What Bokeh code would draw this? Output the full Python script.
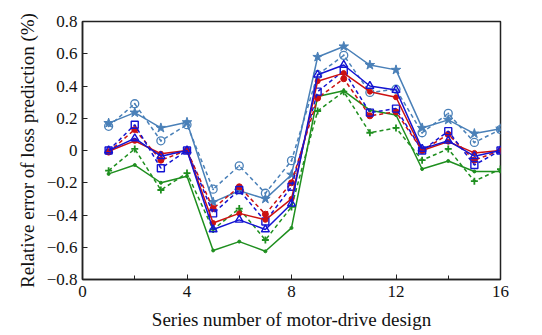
from bokeh.plotting import figure
from bokeh.models import FixedTicker, Range1d
from bokeh.embed import file_html
from bokeh.resources import INLINE

x = list(range(1, 17))
star_solid = [0.17, 0.235, 0.14, 0.175, -0.32, -0.25, -0.30, -0.15, 0.58, 0.645, 0.53, 0.50, 0.14, 0.19, 0.105, 0.135]
circle_dashed = [0.15, 0.29, 0.06, 0.16, -0.24, -0.095, -0.265, -0.063, 0.47, 0.59, 0.36, 0.38, 0.11, 0.23, 0.05, 0.13]
triangle_solid = [0.0, 0.075, -0.035, 0.0, -0.49, -0.43, -0.49, -0.33, 0.47, 0.53, 0.40, 0.375, 0.01, 0.06, -0.035, 0.0]
square_dashed = [0.0, 0.16, -0.11, 0.0, -0.39, -0.245, -0.44, -0.225, 0.365, 0.495, 0.235, 0.26, 0.0, 0.12, -0.09, 0.0]
red_solid = [-0.005, 0.06, -0.02, 0.0, -0.45, -0.39, -0.43, -0.30, 0.43, 0.48, 0.365, 0.33, 0.0, 0.055, -0.015, 0.0]
red_dashed = [-0.01, 0.13, -0.06, 0.0, -0.36, -0.225, -0.395, -0.20, 0.325, 0.445, 0.215, 0.24, 0.0, 0.10, -0.06, 0.0]
green_solid = [-0.145, -0.09, -0.2, -0.16, -0.62, -0.565, -0.625, -0.48, 0.335, 0.37, 0.25, 0.22, -0.115, -0.065, -0.13, -0.13]
green_plus = [-0.125, 0.01, -0.245, -0.14, -0.49, -0.36, -0.555, -0.35, 0.245, 0.365, 0.11, 0.14, -0.06, 0.01, -0.19, -0.115]

x_ticks = [0, 4, 8, 12, 16]
x_minor = [2, 6, 10, 14]
y_ticks = [-0.8, -0.6, -0.4, -0.2, 0, 0.2, 0.4, 0.6, 0.8]
y_labels = ["\u22120.8", "\u22120.6", "\u22120.4", "\u22120.2", "0", "0.2", "0.4", "0.6", "0.8"]

STEEL = "#4a80b8"
BLUE = "#1414d2"
RED = "#cc1111"
GREEN = "#1f8f1f"
FONT = "Liberation Serif"

p = figure(width=534, height=327, output_backend="svg", toolbar_location=None,
           x_range=Range1d(0, 16), y_range=Range1d(-0.8, 0.8),
           frame_width=418, frame_height=258,
           min_border_left=82, min_border_right=34, min_border_top=21, min_border_bottom=48)
p.grid.visible = False
p.outline_line_color = "#222222"
p.outline_line_width = 1.5
p.background_fill_color = "white"
p.border_fill_color = "white"

dash = "4 3"
lw = 1.5

# steelblue solid star
p.line(x, star_solid, color=STEEL, line_width=lw)
p.scatter(x, star_solid, marker="star", size=10, color=STEEL)
# steelblue dashed circle
p.line(x, circle_dashed, color=STEEL, line_width=lw, line_dash=dash)
p.scatter(x, circle_dashed, marker="circle_dot", size=8, line_color=STEEL, fill_color=None, line_width=1.3)
# green solid
p.line(x, green_solid, color=GREEN, line_width=lw)
p.scatter(x, green_solid, marker="circle", size=3, color=GREEN)
# green dashed plus
p.line(x, green_plus, color=GREEN, line_width=lw, line_dash=dash)
p.scatter(x, green_plus, marker="cross", size=7, line_color=GREEN, line_width=1.8)
# red dashed
p.line(x, red_dashed, color=RED, line_width=lw, line_dash=dash)
p.scatter(x, red_dashed, marker="circle", size=6, color=RED)
# blue dashed square
p.line(x, square_dashed, color=BLUE, line_width=lw, line_dash=dash)
p.scatter(x, square_dashed, marker="square", size=7, line_color=BLUE, fill_color=None, line_width=1.4)
# red solid
p.line(x, red_solid, color=RED, line_width=lw)
p.scatter(x, red_solid, marker="circle", size=5, line_color=RED, fill_color=RED)
# blue solid triangle
p.line(x, triangle_solid, color=BLUE, line_width=lw)
p.scatter(x, triangle_solid, marker="triangle", size=8, line_color=BLUE, fill_color=None, line_width=1.4)

p.xaxis.ticker = FixedTicker(ticks=x_ticks, minor_ticks=x_minor)
p.yaxis.ticker = FixedTicker(ticks=y_ticks, minor_ticks=[])
p.yaxis.major_label_overrides = {t: l for t, l in zip(y_ticks, y_labels)}

for ax in (p.xaxis[0], p.yaxis[0]):
    ax.axis_line_color = "#222222"
    ax.axis_line_width = 1.5
    ax.major_tick_in = 5
    ax.major_tick_out = 0
    ax.minor_tick_in = 4
    ax.minor_tick_out = 0
    ax.major_tick_line_color = "#222222"
    ax.minor_tick_line_color = "#222222"
    ax.major_label_text_font = FONT
    ax.major_label_text_font_size = "17px"
    ax.major_label_text_color = "#111111"
    ax.axis_label_text_font = FONT
    ax.axis_label_text_font_size = "19px"
    ax.axis_label_text_font_style = "normal"
    ax.axis_label_text_color = "#111111"

p.xaxis.axis_label = "Series number of motor-drive design"
p.yaxis.axis_label = "Relative error of loss prediction (%)"
p.xaxis.major_label_standoff = 6
p.xaxis.axis_label_standoff = 9
p.yaxis.major_label_standoff = 5
p.yaxis.axis_label_standoff = 6

open("out.html", "w").write(file_html(p, INLINE))
